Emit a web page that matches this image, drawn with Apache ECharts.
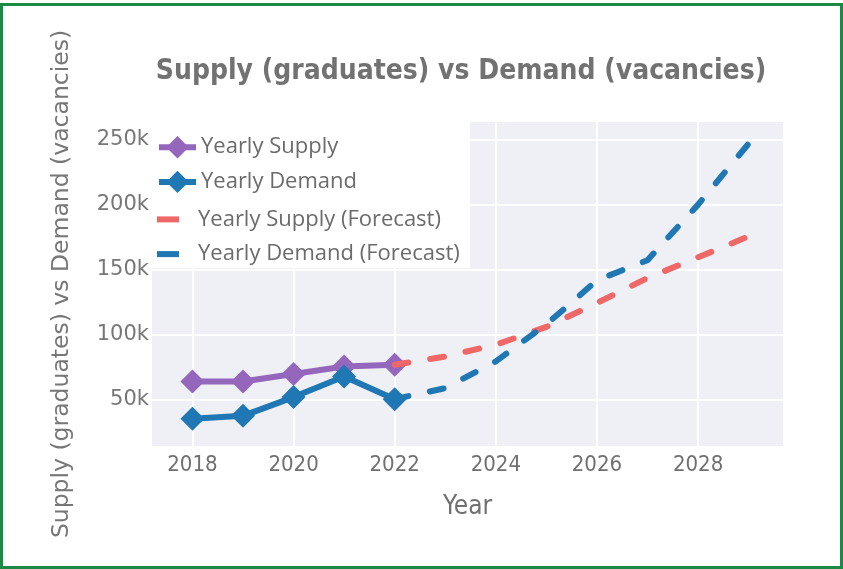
<!DOCTYPE html>
<html>
<head>
<meta charset="utf-8">
<script src="https://cdn.jsdelivr.net/npm/echarts@6/dist/echarts.min.js"></script>
<style>
  html, body { margin: 0; padding: 0; background: #fff; }
  #frame {
    position: absolute; left: 0; top: 3px; width: 843px; height: 566px;
    box-sizing: border-box; border: 3px solid #1b8a44; pointer-events: none; z-index: 2;
  }
  #topbar { position: absolute; left: 0; top: 0; width: 843px; height: 3px; background: #c9c9c9; }
  #chart { position: absolute; left: 0; top: 0; width: 843px; height: 569px; }
</style>
</head>
<body>
<div id="topbar"></div>
<div id="chart"></div>
<div id="frame"></div>
<script>
const years = [2018, 2019, 2020, 2021, 2022]
const supply = [64100, 64100, 69800, 75600, 76900]
const demand = [35400, 37700, 52100, 67900, 50500]

const forecastYears = [2022, 2023, 2024, 2025, 2026, 2027, 2028, 2029]
const supplyForecast = [76900, 83300, 92300, 106000, 124400, 143600, 159500, 175600]
const demandForecast = [50500, 59000, 79500, 108000, 141800, 157300, 200000, 246900]

const xTicks = [2018, 2020, 2022, 2024, 2026, 2028]
const yTicks = [50000, 100000, 150000, 200000, 250000]

const seriesNames = ['Yearly Supply', 'Yearly Demand', 'Yearly Supply (Forecast)', 'Yearly Demand (Forecast)']

const condensed = "'DejaVu Sans Condensed', 'Liberation Sans Narrow', 'Roboto Condensed', 'Roboto', sans-serif"
const wide = "'DejaVu Sans', Verdana, sans-serif"

// short dash for the forecast legend entries, padded so it keeps its size in the icon box
const dashIcon = 'path://M0,0 M37,28 M1,11h22v6h-22z'

const pairs = (xs, ys) => xs.map((x, i) => [x, ys[i]])

// one legend per row so the rows sit at a fixed pitch
const legendRowTop = 136
const legendRowPitch = 34.7
const legends = seriesNames.map((name, i) => ({
  orient: 'vertical',
  left: 152,
  top: legendRowTop + i * legendRowPitch,
  padding: [0, 0, 0, 4],
  itemWidth: 37,
  itemHeight: 28,
  z: 6,
  lineStyle: { width: 6 },
  textStyle: { fontFamily: "'Open Sans', sans-serif", fontSize: 22, color: '#6b6b6b' },
  data: [i < 2 ? { name } : { name, icon: dashIcon }]
}))

const chart = echarts.init(document.getElementById('chart'))

const option = {
  animation: false,
  backgroundColor: '#fff',
  graphic: [
    {
      type: 'text',
      x: 461,
      y: 72,
      style: {
        text: 'Supply (graduates) vs Demand (vacancies)',
        font: "bold 28px " + condensed,
        fill: '#727272',
        textAlign: 'center',
        textVerticalAlign: 'middle'
      }
    },
    {
      // legend box
      type: 'rect',
      z: 5,
      shape: { x: 152, y: 122, width: 318, height: 146 },
      style: { fill: '#fff' }
    }
  ],
  grid: {
    left: 152,
    right: 60,
    top: 122,
    bottom: 123,
    show: true,
    backgroundColor: '#eef0f5',
    borderWidth: 0
  },
  legend: legends,
  xAxis: {
    type: 'value',
    min: 2017.2,
    max: 2029.68,
    name: 'Year',
    nameLocation: 'middle',
    nameGap: 48,
    nameTextStyle: { fontFamily: condensed, fontSize: 26, color: '#707070' },
    axisLine: { show: false },
    axisTick: { show: false, customValues: xTicks },
    axisLabel: {
      customValues: xTicks,
      margin: 8,
      fontFamily: condensed,
      fontSize: 22,
      color: '#707070',
      formatter: v => String(v)
    },
    splitLine: { show: true, lineStyle: { color: '#fff', width: 2 } }
  },
  yAxis: {
    type: 'value',
    min: 14500,
    max: 263500,
    name: 'Supply (graduates) vs Demand (vacancies)',
    nameLocation: 'middle',
    nameGap: 78,
    nameRotate: 90,
    nameTextStyle: { fontFamily: wide, fontSize: 23.5, color: '#777' },
    axisLine: { show: false },
    axisTick: { show: false, customValues: yTicks },
    axisLabel: {
      customValues: yTicks,
      margin: 3,
      fontFamily: wide,
      fontSize: 21,
      color: '#777',
      formatter: v => (v / 1000) + 'k'
    },
    splitLine: { show: true, lineStyle: { color: '#fff', width: 2 } }
  },
  series: [
    {
      name: seriesNames[0],
      type: 'line',
      data: pairs(years, supply),
      symbol: 'diamond',
      symbolSize: 24,
      itemStyle: { color: '#9467bd' },
      lineStyle: { color: '#9467bd', width: 6 },
      z: 2
    },
    {
      name: seriesNames[1],
      type: 'line',
      data: pairs(years, demand),
      symbol: 'diamond',
      symbolSize: 24,
      itemStyle: { color: '#1f77b4' },
      lineStyle: { color: '#1f77b4', width: 6 },
      z: 2
    },
    {
      name: seriesNames[2],
      type: 'line',
      data: pairs(forecastYears, supplyForecast),
      symbol: 'none',
      itemStyle: { color: '#ef6767' },
      lineStyle: { color: '#ef6767', width: 6, type: [14, 22], cap: 'round' },
      z: 3
    },
    {
      name: seriesNames[3],
      type: 'line',
      data: pairs(forecastYears, demandForecast),
      symbol: 'none',
      itemStyle: { color: '#1f77b4' },
      lineStyle: { color: '#1f77b4', width: 6, type: [14, 22], cap: 'round' },
      z: 3
    }
  ]
}

chart.setOption(option)
</script>
</body>
</html>
